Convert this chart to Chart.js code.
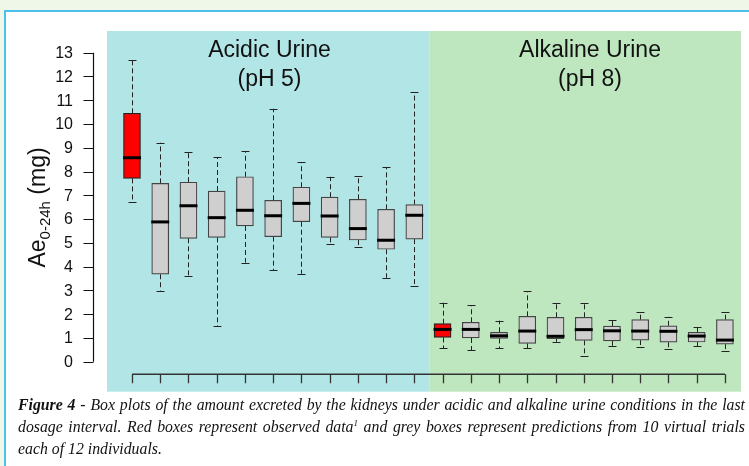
<!DOCTYPE html>
<html>
<head>
<meta charset="utf-8">
<script src="https://cdn.jsdelivr.net/npm/chart.js@4.4.1/dist/chart.umd.min.js"></script>
<style>
  body { margin: 0; background: #eff7e8; width: 749px; height: 466px; overflow: hidden; position: relative; }
  #frame { position: absolute; left: 4px; top: 10px; right: 0; bottom: 0; background: #fff;
           border-left: 2px solid #4cc0ef; border-top: 2px solid #4cc0ef; }
  #chart { position: absolute; left: 0; top: 0; }
  #caption { position: absolute; left: 18px; top: 394px; width: 727px;
             font-family: "Liberation Serif", "Times New Roman", serif; font-style: italic;
             font-size: 15.8px; line-height: 22px; color: #111; }
  #caption div { text-align: justify; text-align-last: justify; white-space: nowrap; }
  #caption div.last { text-align-last: left; }
  sup { font-size: 9px; line-height: 0; }
</style>
</head>
<body>
<div id="frame"></div>
<canvas id="chart" width="749" height="395"></canvas>
<div id="caption">
  <div><b>Figure 4</b> - Box plots of the amount excreted by the kidneys under acidic and alkaline urine conditions in the last</div>
  <div>dosage interval. Red boxes represent observed data<sup>1</sup> and grey boxes represent predictions from 10 virtual trials</div>
  <div class="last">each of 12 individuals.</div>
</div>
<script>
// 22 boîtes : 11 en urine acide, 11 en urine alcaline (1ère de chaque groupe = observé)
const positions = [1,2,3,4,5,6,7,8,9,10,11,12,13,14,15,16,17,18,19,20,21,22];
const observed  = [1, 12];
const mins    = [6.72, 2.99, 3.62, 1.50, 4.17, 3.86, 3.70, 4.94, 4.81, 3.53, 3.18, 0.56, 0.49, 0.56, 0.56, 0.84, 0.24, 0.66, 0.62, 0.52, 0.66, 0.45];
const q1s     = [7.71, 3.68, 5.19, 5.23, 5.71, 5.26, 5.89, 5.23, 5.12, 4.73, 5.16, 1.02, 1.00, 0.98, 0.77, 0.97, 0.90, 0.88, 0.91, 0.82, 0.83, 0.74];
const medians = [8.58, 5.88, 6.56, 6.06, 6.37, 6.14, 6.66, 6.13, 5.60, 5.11, 6.16, 1.36, 1.36, 1.09, 1.29, 1.07, 1.35, 1.30, 1.29, 1.28, 1.08, 0.91];
const q3s     = [10.45, 7.50, 7.55, 7.18, 7.78, 6.79, 7.34, 6.92, 6.83, 6.41, 6.61, 1.60, 1.66, 1.24, 1.91, 1.87, 1.87, 1.50, 1.77, 1.51, 1.24, 1.77];
const maxs    = [12.69, 9.21, 8.82, 8.61, 8.85, 10.64, 8.40, 7.78, 7.80, 8.18, 11.33, 2.48, 2.37, 1.73, 2.96, 2.46, 2.48, 1.75, 2.08, 1.89, 1.46, 2.08];
const yTicks  = [0,1,2,3,4,5,6,7,8,9,10,11,12,13];
const panels  = [
    { from: 0.115, to: 11.53, color: '#b2e6e6', title: ['Acidic Urine', '(pH 5)'], cx: 269.5 },
    { from: 11.53, to: 22.57, color: '#bee6bf', title: ['Alkaline Urine', '(pH 8)'], cx: 590 }
];

const isObs = positions.map(p => observed.includes(p));

// fonds, moustaches, médianes et axes
const boxPlugin = {
    id: 'boxExtras',
    beforeDatasetsDraw(chart) {
        const c = chart.ctx, x = chart.scales.x, y = chart.scales.y, a = chart.chartArea;
        c.save();
        panels.forEach(p => {
            c.fillStyle = p.color;
            c.fillRect(x.getPixelForValue(p.from), a.top, x.getPixelForValue(p.to) - x.getPixelForValue(p.from), a.bottom - a.top);
        });
        c.fillStyle = '#111';
        c.font = '23px "Liberation Sans", Arial, sans-serif';
        c.textAlign = 'center';
        c.textBaseline = 'alphabetic';
        panels.forEach(p => {
            c.fillText(p.title[0], p.cx, 56.5);
            c.fillText(p.title[1], p.cx, 86);
        });
        // moustaches
        c.strokeStyle = '#222';
        c.lineWidth = 1;
        positions.forEach((pos, i) => {
            const px = Math.round(x.getPixelForValue(pos)) + 0.5;
            c.setLineDash([5, 3]);
            c.beginPath();
            c.moveTo(px, y.getPixelForValue(q3s[i])); c.lineTo(px, y.getPixelForValue(maxs[i]));
            c.moveTo(px, y.getPixelForValue(q1s[i])); c.lineTo(px, y.getPixelForValue(mins[i]));
            c.stroke();
            c.setLineDash([]);
            c.beginPath();
            c.moveTo(px - 4, Math.round(y.getPixelForValue(maxs[i])) + 0.5); c.lineTo(px + 4, Math.round(y.getPixelForValue(maxs[i])) + 0.5);
            c.moveTo(px - 4, Math.round(y.getPixelForValue(mins[i])) + 0.5); c.lineTo(px + 4, Math.round(y.getPixelForValue(mins[i])) + 0.5);
            c.stroke();
        });
        c.restore();
    },
    afterDatasetsDraw(chart) {
        const c = chart.ctx, x = chart.scales.x, y = chart.scales.y, a = chart.chartArea;
        c.save();
        // médianes
        c.strokeStyle = '#000';
        c.lineWidth = 3;
        positions.forEach((pos, i) => {
            const px = x.getPixelForValue(pos);
            const py = y.getPixelForValue(medians[i]);
            c.beginPath();
            c.moveTo(px - 9, py); c.lineTo(px + 9, py);
            c.stroke();
        });
        // axe x (sans étiquettes)
        c.lineWidth = 1.3;
        c.strokeStyle = '#333';
        const ax = y.getPixelForValue(0) + 12.5;
        c.beginPath();
        c.moveTo(x.getPixelForValue(positions[0]), ax);
        c.lineTo(x.getPixelForValue(positions[positions.length - 1]), ax);
        positions.forEach(pos => {
            const px = Math.round(x.getPixelForValue(pos)) + 0.5;
            c.moveTo(px, ax); c.lineTo(px, ax + 9);
        });
        c.stroke();
        // axe y
        const lx = a.left + 0.5;
        c.strokeStyle = '#111';
        c.lineWidth = 1.2;
        c.beginPath();
        c.moveTo(lx, y.getPixelForValue(yTicks[0]));
        c.lineTo(lx, y.getPixelForValue(yTicks[yTicks.length - 1]));
        yTicks.forEach(t => {
            const py = Math.round(y.getPixelForValue(t)) + 0.5;
            c.moveTo(lx, py); c.lineTo(lx - 10, py);
        });
        c.stroke();
        c.fillStyle = '#111';
        c.font = '16px "Liberation Sans", Arial, sans-serif';
        c.textAlign = 'right';
        c.textBaseline = 'middle';
        yTicks.forEach(t => c.fillText(String(t), 73, y.getPixelForValue(t) + 1));
        // titre de l'axe y
        c.translate(45, 207.5);
        c.rotate(-Math.PI / 2);
        c.textAlign = 'left';
        c.textBaseline = 'alphabetic';
        const f1 = '23px "Liberation Sans", Arial, sans-serif', f2 = '15px "Liberation Sans", Arial, sans-serif';
        c.font = f1; const w1 = c.measureText('Ae').width, w3 = c.measureText(' (mg)').width;
        c.font = f2; const w2 = c.measureText('0-24h').width;
        let sx = -(w1 + w2 + w3) / 2;
        c.font = f1; c.fillText('Ae', sx, 0); sx += w1;
        c.font = f2; c.fillText('0-24h', sx, 5); sx += w2;
        c.font = f1; c.fillText(' (mg)', sx, 0);
        c.restore();
    }
};

const ctx = document.getElementById('chart').getContext('2d');
const chart = new Chart(ctx, {
    type: 'bar',
    data: {
        datasets: [{
            data: positions.map((p, i) => ({ x: p, y: [q1s[i], q3s[i]] })),
            backgroundColor: isObs.map(o => o ? '#ff0000' : '#cfcfcf'),
            borderColor: isObs.map(o => o ? '#222' : '#444'),
            borderWidth: 1.2,
            borderSkipped: false,
            barThickness: 17,
            grouped: false
        }]
    },
    options: {
        responsive: false,
        animation: false,
        devicePixelRatio: 1,
        layout: { padding: { left: 93, right: 8, top: 31, bottom: 3.3 } },
        plugins: { legend: { display: false }, tooltip: { enabled: false } },
        scales: {
            x: { type: 'linear', min: -0.381, max: 22.57, offset: false, display: false },
            y: { min: -1.26, max: 13.91, display: false }
        }
    },
    plugins: [boxPlugin]
});
</script>
</body>
</html>
